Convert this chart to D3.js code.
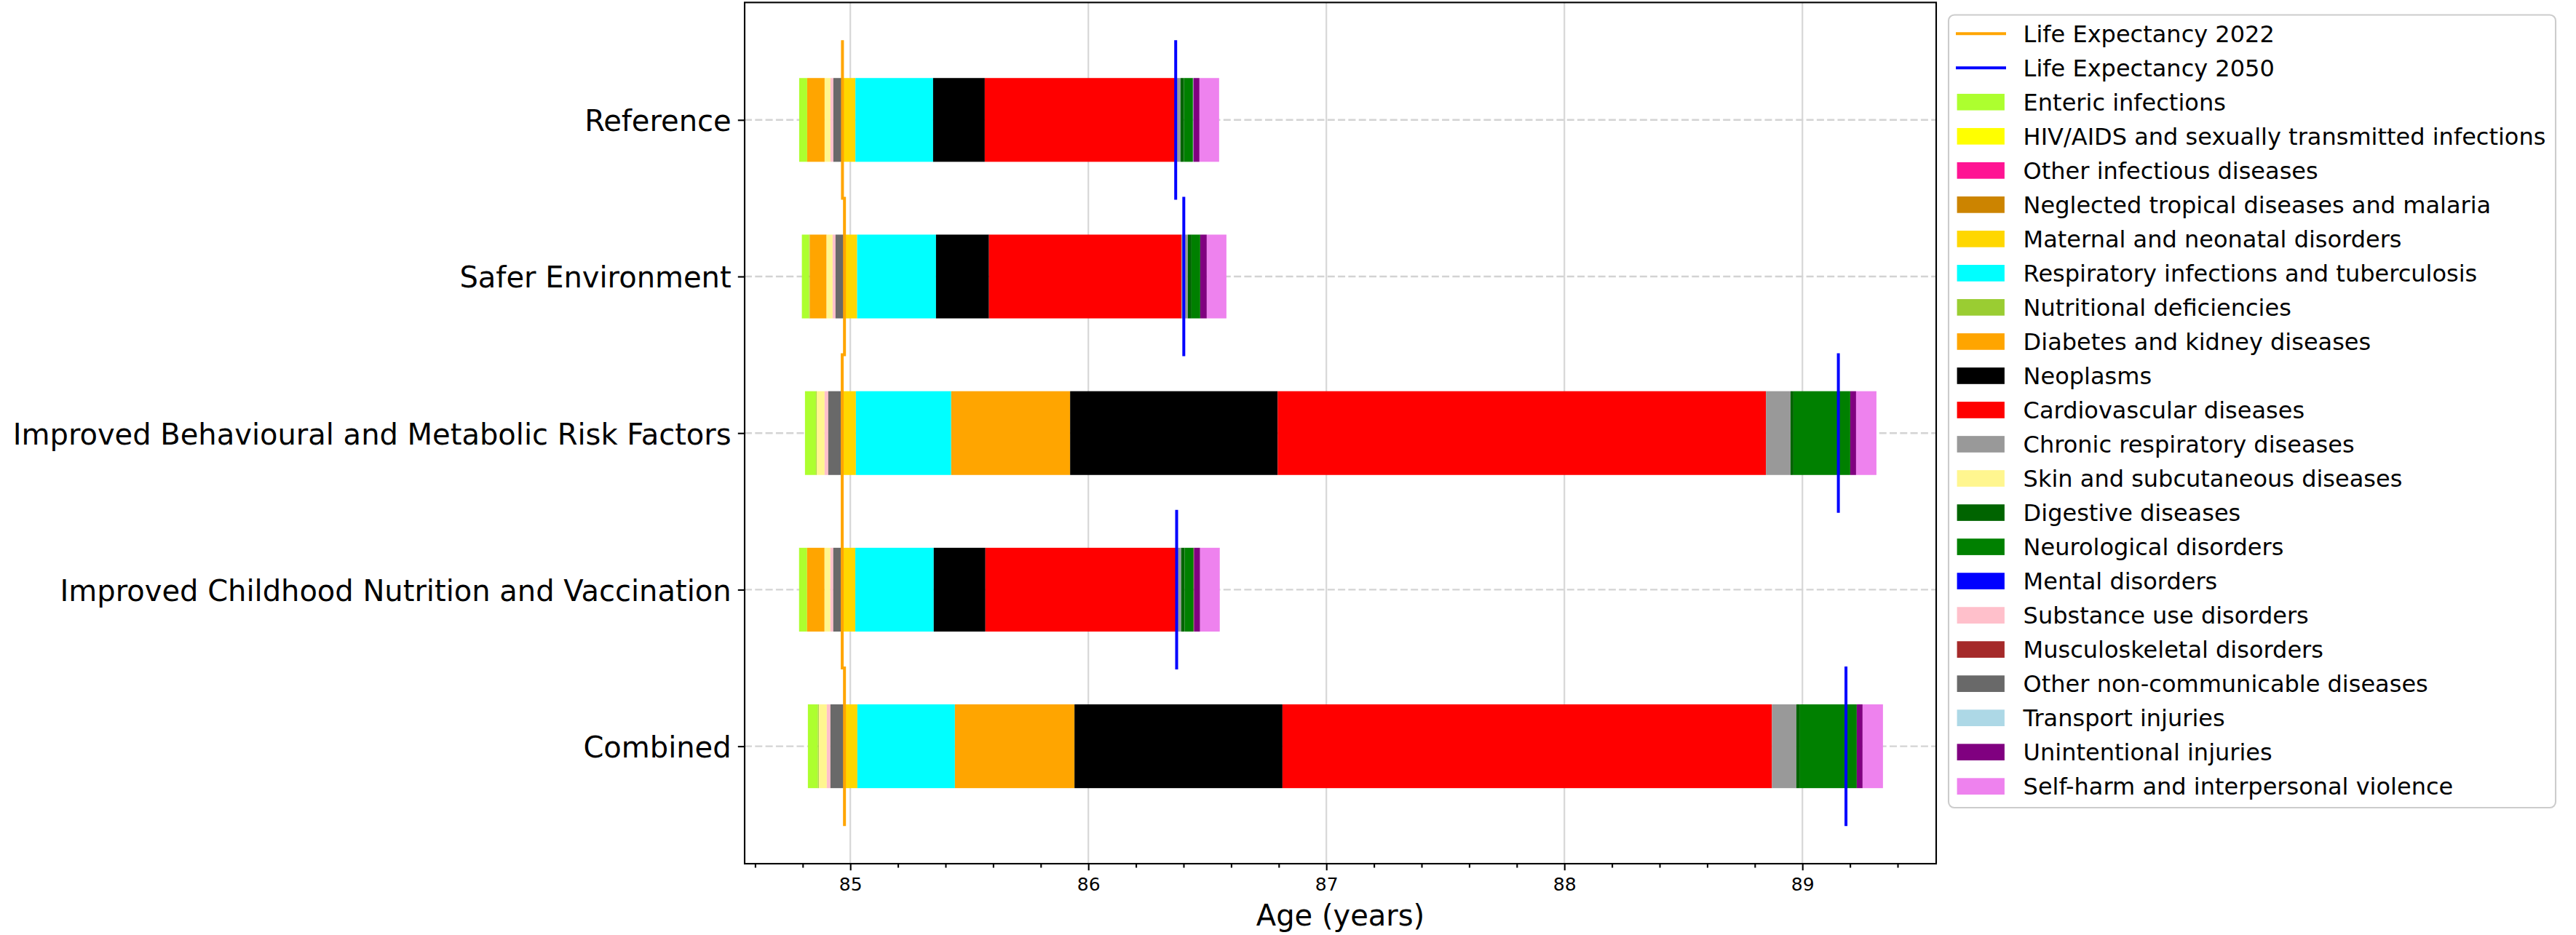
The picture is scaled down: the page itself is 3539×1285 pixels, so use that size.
<!DOCTYPE html>
<html><head><meta charset="utf-8">
<script src="https://cdn.jsdelivr.net/npm/d3@7"></script>
<style>body{margin:0;background:#fff} text{font-family:"DejaVu Sans",sans-serif}</style>
</head><body><svg id="c" width="3539" height="1285"></svg>
<script>
// ---------- DATA ----------
const scenarios = ["Reference", "Safer Environment", "Improved Behavioural and Metabolic Risk Factors", "Improved Childhood Nutrition and Vaccination", "Combined"];
const causes = ["Enteric infections", "HIV/AIDS and sexually transmitted infections", "Other infectious diseases", "Neglected tropical diseases and malaria", "Maternal and neonatal disorders", "Respiratory infections and tuberculosis", "Nutritional deficiencies", "Diabetes and kidney diseases", "Neoplasms", "Cardiovascular diseases", "Chronic respiratory diseases", "Skin and subcutaneous diseases", "Digestive diseases", "Neurological disorders", "Mental disorders", "Substance use disorders", "Musculoskeletal disorders", "Other non-communicable diseases", "Transport injuries", "Unintentional injuries", "Self-harm and interpersonal violence"];
const causeColors = ["#ADFF2F", "#FFFF00", "#FF1493", "#CC8400", "#FFD700", "#00FFFF", "#9ACD32", "#FFA500", "#000000", "#FF0000", "#999999", "#FFF68F", "#006400", "#008000", "#0000FF", "#FFC0CB", "#A52A2A", "#696969", "#ADD8E6", "#800080", "#EE82EE"];
// contributions (years) per cause, in scenario order
const enteric       = [-0.0336, -0.0306, -0.0459, -0.0336, -0.0419];
const hivSti        = [0, 0, 0, 0, 0];
const otherInf      = [0, 0, 0, 0, 0];
const ntdMalaria    = [0, 0, 0, 0, 0];
const maternal      = [0.0544, 0.0532, 0.0575, 0.0550, 0.0541];
const respiratory   = [0.3263, 0.3312, 0.4003, 0.3294, 0.4098];
const nutritional   = [0, -0.0030, -0.0030, 0, -0.0040];
const diabetes      = [-0.0734, -0.0703, 0.4997, -0.0734, 0.5024];
const neoplasms     = [0.2171, 0.2226, 0.8719, 0.2171, 0.8737];
const cardio        = [0.8043, 0.8089, 2.0514, 0.8012, 2.0566];
const chronicResp   = [0.0183, 0.0266, 0.1034, 0.0214, 0.1024];
const skin          = [-0.0245, -0.0254, -0.0336, -0.0245, -0.0336];
const digestive     = [0.0144, 0.0153, 0.0122, 0.0144, 0.0153];
const neuro         = [0.0376, 0.0367, 0.2385, 0.0376, 0.2385];
const mental        = [0, 0, 0, 0, 0];
const substance     = [-0.0122, -0.0122, -0.0153, -0.0122, -0.0153];
const musculo       = [0, 0, 0, 0.0020, 0];
const otherNcd      = [-0.0382, -0.0376, -0.0587, -0.0376, -0.0590];
const transport     = [0.0020, 0, 0, 0, 0];
const unintentional = [0.0254, 0.0275, 0.0245, 0.0254, 0.0245];
const selfHarm      = [0.0826, 0.0826, 0.0856, 0.0826, 0.0856];
const lifeExp2022   = [84.967, 84.9755, 84.966, 84.966, 84.9755];
const lifeExp2050   = [86.367, 86.401, 89.151, 86.371, 89.183];
const xTicks = [85, 86, 87, 88, 89];
const xMinorTicks = [84.6, 84.8, 85.2, 85.4, 85.6, 85.8, 86.2, 86.4, 86.6, 86.8, 87.2, 87.4, 87.6, 87.8, 88.2, 88.4, 88.6, 88.8, 89.2, 89.4];
const xDomain = [84.556, 89.562];
const yDomain = [-0.75, 4.75];
const xLabel = "Age (years)";
const lineLabels = ["Life Expectancy 2022", "Life Expectancy 2050"];

const series = [enteric, hivSti, otherInf, ntdMalaria, maternal, respiratory, nutritional, diabetes, neoplasms, cardio, chronicResp, skin, digestive, neuro, mental, substance, musculo, otherNcd, transport, unintentional, selfHarm];

// ---------- LAYOUT ----------
const L = 1023, R = 2660, T = 3.4, B = 1187;
const svg = d3.select("#c");
svg.append("rect").attr("width", 3539).attr("height", 1285).attr("fill", "#fff");

const x = d3.scaleLinear().domain(xDomain).range([L, R]);
const y = d3.scaleLinear().domain(yDomain).range([T, B]);
const barH = y(0.2675) - y(-0.2675);

// grid
const g = svg.append("g");
g.selectAll(".vg").data(xTicks).join("line")
  .attr("x1", d => x(d)).attr("x2", d => x(d)).attr("y1", T).attr("y2", B)
  .attr("stroke", "#d7d7d7").attr("stroke-width", 2.2);
g.selectAll(".hg").data(scenarios).join("line")
  .attr("x1", L).attr("x2", R).attr("y1", (d, i) => y(i)).attr("y2", (d, i) => y(i))
  .attr("stroke", "#d3d3d3").attr("stroke-width", 2.4).attr("stroke-dasharray", "10,4.3");

// stacked segments
const segs = [];
scenarios.forEach((s, j) => {
  const base = lifeExp2022[j];
  let negSum = 0;
  series.forEach(arr => { if (arr[j] < 0) negSum += arr[j]; });
  let negCur = base + negSum, posCur = base;
  series.forEach((arr, i) => {
    const v = arr[j];
    if (v < 0) { segs.push({j, i, x0: negCur, x1: negCur - v}); negCur -= v; }
    else if (v > 0) { segs.push({j, i, x0: posCur, x1: posCur + v}); posCur += v; }
  });
});
svg.append("g").selectAll("rect").data(segs).join("rect")
  .attr("x", d => x(d.x0)).attr("width", d => x(d.x1) - x(d.x0))
  .attr("y", d => y(d.j) - barH / 2).attr("height", barH)
  .attr("fill", d => causeColors[d.i]);

// life expectancy lines
const pts = [];
lifeExp2022.forEach((v, j) => { pts.push([v, j - 0.5]); pts.push([v, j + 0.5]); });
svg.append("path").attr("d", d3.line().x(d => x(d[0])).y(d => y(d[1]))(pts))
  .attr("fill", "none").attr("stroke", "orange").attr("stroke-width", 4)
  .attr("stroke-linecap", "square").attr("stroke-linejoin", "miter");
svg.append("g").selectAll("line").data(lifeExp2050).join("line")
  .attr("x1", d => x(d)).attr("x2", d => x(d))
  .attr("y1", (d, j) => y(j - 0.5)).attr("y2", (d, j) => y(j + 0.5))
  .attr("stroke", "blue").attr("stroke-width", 4).attr("stroke-linecap", "square");

// axes
const xa = svg.append("g").attr("transform", `translate(0,${B})`)
  .call(d3.axisBottom(x).tickValues(xTicks).tickSize(9.2).tickPadding(10.5).tickFormat(d3.format("d")));
const xm = svg.append("g").attr("transform", `translate(0,${B})`)
  .call(d3.axisBottom(x).tickValues(xMinorTicks).tickSize(5.5).tickFormat(""));
const ya = svg.append("g").attr("transform", `translate(${L},0)`)
  .call(d3.axisLeft(y).tickValues([0, 1, 2, 3, 4]).tickSize(9.2).tickPadding(9.2).tickFormat(i => scenarios[i]));
[xa, xm, ya].forEach(a => {
  a.select(".domain").remove();
  a.selectAll(".tick line").attr("stroke", "#000").attr("stroke-width", 2.1);
});
xa.selectAll(".tick text").attr("font-size", 25).attr("fill", "#000").attr("font-family", "DejaVu Sans");
ya.selectAll(".tick text").attr("font-size", 40).attr("dy", "0.37em").attr("fill", "#000").attr("font-family", "DejaVu Sans");

// spines
svg.append("rect").attr("x", L).attr("y", T).attr("width", R - L).attr("height", B - T)
  .attr("fill", "none").attr("stroke", "#000").attr("stroke-width", 2.1);

svg.append("text").attr("x", (L + R) / 2).attr("y", 1272).attr("text-anchor", "middle")
  .attr("font-size", 40).attr("fill", "#000").text(xLabel);

// legend
const lg = svg.append("g");
lg.append("rect").attr("x", 2677).attr("y", 20.5).attr("width", 3511 - 2677).attr("height", 1110 - 20.5)
  .attr("rx", 8).attr("fill", "#fff").attr("fill-opacity", 0.8).attr("stroke", "#cccccc").attr("stroke-width", 2.1);
const rowY = k => 46.2 + k * 47.02;
const lineColors = ["orange", "blue"];
lineLabels.forEach((t, k) => {
  lg.append("line").attr("x1", 2687).attr("x2", 2756).attr("y1", rowY(k)).attr("y2", rowY(k))
    .attr("stroke", lineColors[k]).attr("stroke-width", 4);
  lg.append("text").attr("x", 2779.6).attr("y", rowY(k)).attr("dy", "0.36em")
    .attr("font-size", 32).attr("fill", "#000").text(t);
});
causes.forEach((c, i) => {
  const k = i + 2;
  lg.append("rect").attr("x", 2688.6).attr("y", rowY(k) - 11.3).attr("width", 65.3).attr("height", 22.7)
    .attr("fill", causeColors[i]);
  lg.append("text").attr("x", 2779.6).attr("y", rowY(k)).attr("dy", "0.36em")
    .attr("font-size", 32).attr("fill", "#000").text(c);
});
</script></body></html>
